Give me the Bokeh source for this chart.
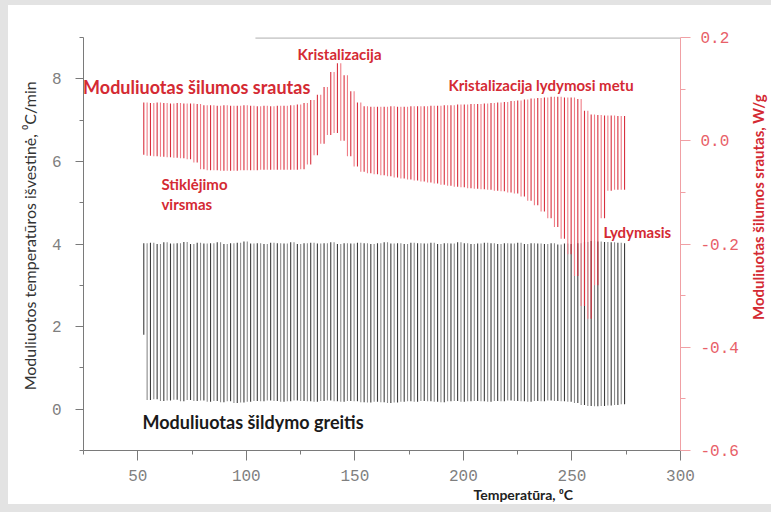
import numpy as np
from math import pi
from bokeh.plotting import figure
from bokeh.layouts import column, row
from bokeh.models import (Range1d, LinearAxis, FixedTicker, NumeralTickFormatter,
                          Label, Title, ColumnDataSource)
from bokeh.embed import file_html
from bokeh.resources import INLINE

# ---- data ----
T_START, T_END = 52.0, 275.0          # modulated run, degC
N_CYCLES = 73

# modulated heat flow, W/g: maxima / minima of each modulation cycle
red_hi = [0.074, 0.073, 0.074, 0.073, 0.072, 0.073, 0.072, 0.072, 0.071,
          0.069, 0.069, 0.068, 0.069, 0.068, 0.068, 0.069, 0.068, 0.067, 0.068, 0.067, 0.068, 0.068, 0.069, 0.070,
          0.073, 0.079, 0.089, 0.104, 0.133, 0.150, 0.127, 0.096, 0.074,
          0.067, 0.066, 0.066, 0.066, 0.067, 0.066, 0.066, 0.067, 0.067, 0.067, 0.068, 0.068, 0.069, 0.069, 0.070, 0.070, 0.071, 0.071,
          0.072, 0.073, 0.074, 0.075, 0.077, 0.078, 0.080,
          0.082, 0.083, 0.084, 0.085, 0.085, 0.084, 0.084, 0.081,
          0.058, 0.051, 0.050, 0.049, 0.049, 0.048, 0.048]
red_lo = [-0.027, -0.029, -0.030, -0.031, -0.032, -0.033, -0.034, -0.036, -0.042,
          -0.055, -0.057, -0.057, -0.058, -0.058, -0.058, -0.057, -0.057, -0.057, -0.056, -0.056, -0.056, -0.056, -0.056, -0.056,
          -0.055, -0.046, -0.028, -0.006, 0.011, 0.015, 0.000, -0.030, -0.050,
          -0.060, -0.063, -0.065, -0.067, -0.069, -0.071, -0.073, -0.075, -0.077, -0.079, -0.081, -0.083, -0.085, -0.087, -0.089, -0.090, -0.092, -0.093,
          -0.094, -0.095, -0.097, -0.098, -0.100, -0.102, -0.108,
          -0.116, -0.125, -0.137, -0.150, -0.167, -0.190, -0.220, -0.262,
          -0.320, -0.345, -0.280, -0.150, -0.097, -0.095, -0.095]

# modulated heating rate, degC/min: maxima / minima of each cycle
black_hi = [4.02, 4.03, 4.00, 4.04, 4.01, 4.02, 4.05, 4.00, 4.03, 4.01,
            4.02, 4.04, 4.00, 4.02, 4.03, 4.06, 4.01, 4.02, 4.00, 4.03,
            4.02, 4.01, 4.04, 4.00, 4.02, 4.03, 4.01, 4.02, 4.04, 4.00,
            4.02, 4.01, 4.03, 4.02, 4.00, 4.02, 4.04, 4.01, 4.02, 4.00,
            4.03, 4.02, 4.01, 4.03, 4.00, 4.02, 4.01, 4.04, 4.02, 4.00,
            4.01, 4.03, 4.02, 4.00, 4.02, 4.01, 4.03, 4.00, 4.02, 4.01,
            4.00, 4.02, 3.99, 4.01, 4.00, 4.02, 4.05, 4.07, 4.06, 4.05,
            4.04, 4.03, 4.02]
black_lo = [1.80, 0.22, 0.24, 0.20, 0.21, 0.23, 0.19, 0.22, 0.20, 0.21,
            0.18, 0.20, 0.17, 0.19, 0.15, 0.16, 0.18, 0.20, 0.19, 0.21,
            0.20, 0.18, 0.19, 0.21, 0.20, 0.19, 0.18, 0.20, 0.21, 0.19,
            0.18, 0.20, 0.19, 0.17, 0.16, 0.18, 0.17, 0.15, 0.16, 0.18,
            0.19, 0.18, 0.20, 0.19, 0.18, 0.17, 0.19, 0.20, 0.18, 0.19,
            0.20, 0.19, 0.18, 0.20, 0.19, 0.21, 0.20, 0.19, 0.18, 0.20,
            0.19, 0.21, 0.20, 0.19, 0.18, 0.15, 0.10, 0.08, 0.07, 0.08,
            0.09, 0.10, 0.12]

x_ticks = [50, 100, 150, 200, 250, 300]
x_minor = [25, 75, 125, 175, 225, 275]
yl_ticks = [0, 2, 4, 6, 8]
yl_minor = [-1, 1, 3, 5, 7, 9]
yr_ticks = [-0.6, -0.4, -0.2, 0.0, 0.2]
yr_minor = [-0.5, -0.3, -0.1, 0.1]

# extrema alternate lo/hi at uniform sampling instants; each stroke between
# consecutive extrema is drawn as one nearly vertical line
temps = np.linspace(T_START, T_END, 2 * N_CYCLES)
red_trace = np.ravel(np.column_stack([red_lo, red_hi]))
black_trace = np.ravel(np.column_stack([black_lo, black_hi]))
stroke_x = (temps[:-1] + temps[1:]) / 2
up = np.arange(len(stroke_x)) % 2 == 0

def strokes(trace, c_up, c_down):
    return ColumnDataSource(dict(x=stroke_x, y0=trace[:-1], y1=trace[1:],
                                 c=np.where(up, c_up, c_down)))

RED = "#d42a33"
GRAY = "#7a7a7a"
MONO = "Liberation Mono"
SANS = "Lato"
NB = "\u00a0"
H = 499

p = figure(width=733, height=H, x_range=Range1d(25, 300), y_range=Range1d(-1, 9),
           output_backend="svg", toolbar_location=None,
           min_border_left=75, min_border_right=61, min_border_top=32, min_border_bottom=54)
p.extra_y_ranges = {"hf": Range1d(-0.6, 0.2)}
p.xgrid.visible = False
p.ygrid.visible = False
p.outline_line_color = None
p.background_fill_color = "white"
p.border_fill_color = "white"

def style(ax, line_col, lab_col, tick_out, minor_out, standoff):
    ax.axis_line_color = line_col
    ax.major_tick_line_color = line_col
    ax.minor_tick_line_color = line_col
    ax.major_tick_in = 0
    ax.major_tick_out = tick_out
    ax.minor_tick_in = 0
    ax.minor_tick_out = minor_out
    ax.major_label_text_font = MONO
    ax.major_label_text_font_size = "16px"
    ax.major_label_text_color = lab_col
    ax.major_label_standoff = standoff
    ax.axis_label_text_font = SANS

xa = p.xaxis[0]
xa.ticker = FixedTicker(ticks=x_ticks, minor_ticks=x_minor)
style(xa, GRAY, "#7f7f7f", 10, 4, 9)

ya = p.yaxis[0]
ya.ticker = FixedTicker(ticks=yl_ticks, minor_ticks=yl_minor)
style(ya, GRAY, "#7f7f7f", 8, 4, 14)
ya.axis_label = NB * 4 + "Moduliuotos temperatūros išvestinė, ⁰C/min"
ya.axis_label_text_font_size = "16px"
ya.axis_label_text_font_style = "normal"
ya.axis_label_text_color = "#333333"
ya.axis_label_standoff = 10

yr = LinearAxis(y_range_name="hf", ticker=FixedTicker(ticks=yr_ticks, minor_ticks=yr_minor),
                formatter=NumeralTickFormatter(format="0.0"))
style(yr, "#f0a0a4", "#e86068", 10, 5, 10)
p.add_layout(yr, "right")

p.add_layout(Title(text="Temperatūra, ⁰C", align="left", offset=390, standoff=0,
                   text_font=SANS, text_font_size="14px", text_font_style="bold",
                   text_color="#222222"), "below")

# partial top frame line
p.line([104.2, 300], [8.99, 8.99], line_color="#8c8c8c", line_width=1)

p.segment(x0="x", y0="y0", x1="x", y1="y1", line_color="c", line_width=1.1,
          source=strokes(black_trace, "#3c3c3c", "#8a8a8a"))
p.segment(x0="x", y0="y0", x1="x", y1="y1", line_color="c", line_width=1.1,
          y_range_name="hf", source=strokes(red_trace, "#d8303e", "#f07c86"))

def lab(fig, text, x, y, color, size, angle=0.0, align="left"):
    fig.add_layout(Label(x=x, y=y, text=text, text_color=color, text_font=SANS,
                         text_font_size=size, text_font_style="bold", angle=angle,
                         text_align=align, text_baseline="middle"))

lab(p, "Moduliuotas šilumos srautas", 24.8, 7.79, RED, "18px")
lab(p, "Kristalizacija", 123.6, 8.61, RED, "15px")
lab(p, "Kristalizacija lydymosi metu", 193.1, 7.86, RED, "15px")
lab(p, "Stiklėjimo", 60.9, 5.46, RED, "15px")
lab(p, "virsmas", 60.9, 4.98, RED, "15px")
lab(p, "Lydymasis", 264.5, 4.28, RED, "15px")
lab(p, "Moduliuotas šildymo greitis", 52.2, -0.32, "#1a1a1a", "18px")

# narrow strip to the right that carries the right axis title (pixel coordinates)
side = figure(width=30, height=H, x_range=Range1d(0, 30), y_range=Range1d(0, H),
              output_backend="svg", toolbar_location=None,
              x_axis_location=None, y_axis_location=None,
              min_border_left=0, min_border_right=0, min_border_top=0, min_border_bottom=0)
side.grid.visible = False
side.outline_line_color = None
side.background_fill_color = "white"
side.border_fill_color = "white"
lab(side, "Moduliuotas šilumos srautas, W/g", 16, H - 205, RED, "15px",
    angle=pi / 2, align="center")

panel = row(p, side, spacing=0, styles={"background-color": "white"})
page = column(panel, styles={"background-color": "#e3e3e3",
                             "padding": "5px 0px 8px 8px"})
open("out.html", "w").write(file_html(page, INLINE))
